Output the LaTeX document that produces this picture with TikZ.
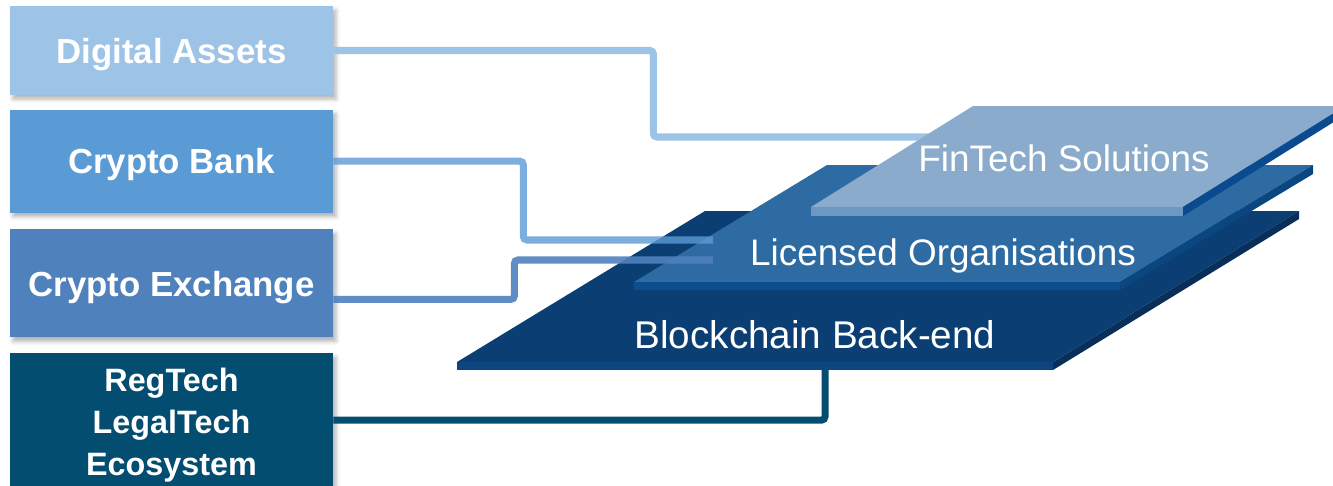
\documentclass[tikz,border=0pt]{standalone}
\usepackage{fontspec}
\setmainfont{Liberation Sans}
\usepackage{xcolor}
\usetikzlibrary{positioning,shadows.blur}
\definecolor{assetblue}{HTML}{9DC3E6}
\definecolor{bankblue}{HTML}{5B9BD5}
\definecolor{exchblue}{HTML}{4F81BD}
\definecolor{regblue}{HTML}{034D71}
\definecolor{bbtop}{HTML}{0B3F73}
\definecolor{bbfront}{HTML}{0D4580}
\definecolor{bbside}{HTML}{082E5A}
\definecolor{lotop}{HTML}{2E6BA3}
\definecolor{lofront}{HTML}{0C4D8E}
\definecolor{loside}{HTML}{0A4680}
\definecolor{fttop}{HTML}{8AABCB}
\definecolor{ftfront}{HTML}{6E97C3}
\definecolor{ftside}{HTML}{0A4B8F}

\begin{document}
\begin{tikzpicture}[
    x=0.2mm, y=-0.2mm,
    tile/.style={text=white, font=\bfseries\fontsize{19.8}{24}\selectfont, minimum width=64.6mm, inner sep=0pt, align=center, text depth=0pt,
        blur shadow={shadow xshift=0.6mm, shadow yshift=-0.8mm, shadow blur radius=0.8mm, shadow opacity=30}},
    wire/.style={line width=4pt, rounded corners=2pt},
    layertxt/.style={text=white, font=\fontsize{21}{25}\selectfont, anchor=base, inner sep=0pt}
]
\useasboundingbox (0,0) rectangle (1333,485);

\node[tile, fill=assetblue, minimum height=17.8mm] (da) at (171.5,50.5) {Digital Assets};
\node[tile, fill=bankblue, minimum height=20.6mm, below=2.8mm of da] (cb) {Crypto Bank};
\node[tile, fill=exchblue, minimum height=21.6mm, below=3.2mm of cb] (cx) {Crypto Exchange};
\node[tile, fill=regblue, minimum height=27.6mm, below=3mm of cx, font=\bfseries\fontsize{18.4}{23.9}\selectfont] (rt) {RegTech\\LegalTech\\Ecosystem};

\coordinate (ftin) at (940,137);
\coordinate (loin1) at (713,240);
\coordinate (loin2) at (713,260);
\coordinate (bbin) at (825,366);

\draw[wire, assetblue] (da.east) -- ++(320,0) |- (ftin);
\draw[wire, regblue] ([yshift=0.4mm]rt.east) -| (bbin);

\fill[bbtop] (705,211) -- (1299,211) -- (1053,362) -- (457,362) -- cycle;
\fill[bbfront] (457,362) rectangle (1053,370);
\fill[bbside] (1053,362) -- (1299,211) -- (1299,219) -- (1053,370) -- cycle;

\fill[lotop] (827,165) -- (1313,165) -- (1120,282) -- (634,282) -- cycle;
\fill[lofront] (634,282) rectangle (1120,290);
\fill[loside] (1120,282) -- (1313,165) -- (1313,174) -- (1120,290) -- cycle;

\fill[fttop] (973,106) -- (1345,106) -- (1183,207) -- (811,207) -- cycle;
\fill[ftfront] (811,207) rectangle (1183,216);
\fill[ftside] (1183,207) -- (1345,106) -- (1345,115) -- (1183,216) -- cycle;

\draw[wire, bankblue, opacity=0.8] (cb.east) -- ++(190,0) |- (loin1);
\draw[wire, exchblue, opacity=0.9] ([yshift=-3.2mm]cx.east) -- ++(181,0) |- (loin2);

\node[layertxt] (ftlbl) at (1064,171) {FinTech Solutions};
\node[layertxt] (lolbl) at (943,265) {Licensed Organisations};
\node[layertxt, font=\fontsize{22}{26}\selectfont] (bblbl) at (815,348) {Blockchain Back-end};
\end{tikzpicture}
\end{document}
